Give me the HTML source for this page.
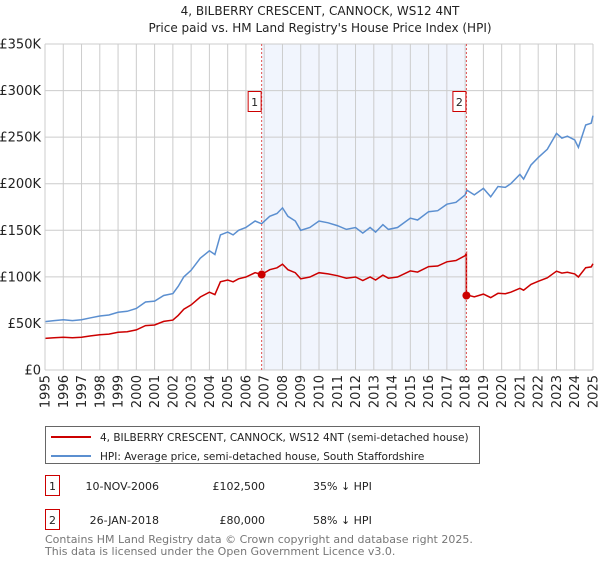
<!DOCTYPE html>
<html><head><meta charset="utf-8">
<style>
body{margin:0;background:#fff;font-family:"DejaVu Sans","Liberation Sans",sans-serif;}
svg text{font-family:"DejaVu Sans","Liberation Sans",sans-serif;}
</style></head>
<body>
<svg id="c" width="600" height="560" xmlns="http://www.w3.org/2000/svg">
<text x="320" y="15" font-size="12" text-anchor="middle" fill="#222">4, BILBERRY CRESCENT, CANNOCK, WS12 4NT</text>
<text x="320" y="32" font-size="12" text-anchor="middle" fill="#222">Price paid vs. HM Land Registry's House Price Index (HPI)</text>
<g id="grid"></g>
<g id="series"></g>
<g id="axes"></g>
<g>
<rect x="45.5" y="426.5" width="434" height="37" fill="#fff" stroke="#666"/>
<line x1="51" y1="437" x2="91" y2="437" stroke="#cc0000" stroke-width="2"/>
<text x="100" y="441" font-size="10.5" fill="#222">4, BILBERRY CRESCENT, CANNOCK, WS12 4NT (semi-detached house)</text>
<line x1="51" y1="456" x2="91" y2="456" stroke="#5b8fd0" stroke-width="2"/>
<text x="100" y="460" font-size="10.5" fill="#222">HPI: Average price, semi-detached house, South Staffordshire</text>
</g>
<g>
<rect x="45.5" y="475.5" width="14" height="20" fill="#fff" stroke="#cc0000"/>
<text x="52.5" y="490" font-size="11" text-anchor="middle" fill="#222">1</text>
<text x="159" y="490" font-size="11" text-anchor="end" fill="#222">10-NOV-2006</text>
<text x="265" y="490" font-size="11" text-anchor="end" fill="#222">£102,500</text>
<text x="313" y="490" font-size="11" fill="#222">35% ↓ HPI</text>
<rect x="45.5" y="509.5" width="14" height="20" fill="#fff" stroke="#cc0000"/>
<text x="52.5" y="524" font-size="11" text-anchor="middle" fill="#222">2</text>
<text x="159" y="524" font-size="11" text-anchor="end" fill="#222">26-JAN-2018</text>
<text x="265" y="524" font-size="11" text-anchor="end" fill="#222">£80,000</text>
<text x="313" y="524" font-size="11" fill="#222">58% ↓ HPI</text>
</g>
<text x="45" y="543" font-size="11" fill="#777">Contains HM Land Registry data © Crown copyright and database right 2025.</text>
<text x="45" y="555" font-size="11" fill="#777">This data is licensed under the Open Government Licence v3.0.</text>
</svg>
<script>
const hpiYears=[1995,1995.5,1996,1996.5,1997,1997.5,1998,1998.5,1999,1999.5,2000,2000.5,2001,2001.5,2002,2002.3,2002.6,2003,2003.5,2004,2004.3,2004.6,2005,2005.3,2005.6,2006,2006.5,2006.86,2007.3,2007.7,2008,2008.3,2008.7,2009,2009.5,2010,2010.5,2011,2011.5,2012,2012.4,2012.8,2013.1,2013.5,2013.8,2014.3,2015,2015.4,2016,2016.5,2017,2017.5,2018,2018.1,2018.5,2019,2019.4,2019.8,2020.2,2020.5,2021,2021.2,2021.6,2022,2022.5,2023,2023.3,2023.6,2024,2024.2,2024.6,2024.9,2025];
const hpiValues=[52,53,54,53,54,56,58,59,62,63,66,73,74,80,82,90,100,107,120,128,124,145,148,145,150,153,160,157,165,168,174,165,160,150,153,160,158,155,151,153,147,153,148,156,151,153,163,161,170,171,178,180,188,193,188,195,186,197,196,200,210,205,220,228,237,254,249,251,247,239,263,265,273];
const saleYears=[2006.86,2018.07];
const salePrices=[102.5,80];
const yTicks=[0,50,100,150,200,250,300,350];
const yTickLabels=["£0","£50K","£100K","£150K","£200K","£250K","£300K","£350K"];
const xTicks=[1995,1996,1997,1998,1999,2000,2001,2002,2003,2004,2005,2006,2007,2008,2009,2010,2011,2012,2013,2014,2015,2016,2017,2018,2019,2020,2021,2022,2023,2024,2025];

const NS="http://www.w3.org/2000/svg";
const X0=45,X1=593,Y0=370,Y1=44;
const xs=t=>X0+(t-1995)/30*(X1-X0);
const ys=v=>Y0-v/350*(Y0-Y1);
function mk(tag,attrs,parent){const e=document.createElementNS(NS,tag);for(const k in attrs)e.setAttribute(k,attrs[k]);parent.appendChild(e);return e;}
const grid=document.getElementById('grid'),ser=document.getElementById('series'),ax=document.getElementById('axes');
function hpiAt(t){for(let i=0;i<hpiYears.length-1;i++){if(t<=hpiYears[i+1]){const f=(t-hpiYears[i])/(hpiYears[i+1]-hpiYears[i]);return hpiValues[i]+f*(hpiValues[i+1]-hpiValues[i]);}}return hpiValues[hpiValues.length-1];}

let r=mk('rect',{x:xs(saleYears[0]),y:Y1,width:xs(saleYears[1])-xs(saleYears[0]),height:Y0-Y1,fill:'#eef3fc',opacity:0.8},grid);


yTicks.forEach((v,i)=>{
 let l=mk('line',{x1:X0,x2:X1,y1:ys(v),y2:ys(v),stroke:'#ccc','stroke-width':1},grid);
 
 
 let t=mk('text',{x:X0-4,y:ys(v)+4.5,'font-size':13,'text-anchor':'end',fill:'#222'},ax);
 t.textContent=yTickLabels[i];
 
 
});
xTicks.forEach(yr=>{
 let l=mk('line',{x1:xs(yr),x2:xs(yr),y1:Y1,y2:Y0,stroke:'#ccc','stroke-width':1},grid);
 
 
 let t=mk('text',{x:0,y:0,'font-size':13,'text-anchor':'end',fill:'#222',transform:`translate(${xs(yr)+4.5},375) rotate(-90)`},ax);
 t.textContent=yr;
 
 
});
let hp=hpiYears.map((t,i)=>xs(t).toFixed(1)+','+ys(hpiValues[i]).toFixed(1)).join(' ');
let hl=mk('polyline',{points:hp,fill:'none',stroke:'#5b8fd0','stroke-width':1.5},ser);


const r0=salePrices[0]/hpiAt(saleYears[0]),r1=salePrices[1]/hpiAt(saleYears[1]);
let pts=[];
hpiYears.forEach((t,i)=>{if(t<saleYears[1])pts.push([t,hpiValues[i]*r0]);});
pts.push([saleYears[1],hpiAt(saleYears[1])*r0]);
pts.push([saleYears[1],salePrices[1]]);
hpiYears.forEach((t,i)=>{if(t>saleYears[1])pts.push([t,hpiValues[i]*r1]);});
let pl=mk('polyline',{points:pts.map(p=>xs(p[0]).toFixed(1)+','+ys(p[1]).toFixed(1)).join(' '),fill:'none',stroke:'#cc0000','stroke-width':1.5},ser);


saleYears.forEach((t,i)=>{
 let v=mk('line',{x1:xs(t),x2:xs(t),y1:Y1,y2:Y0,stroke:'#e05050','stroke-width':1,'stroke-dasharray':'2,2'},ser);
 
 
 let c=mk('circle',{cx:xs(t),cy:ys(salePrices[i]),r:4,fill:'#cc0000'},ser);
 
 
 let b=mk('rect',{x:xs(t)-13.5,y:91.5,width:13,height:20,fill:'#fff',stroke:'#cc0000'},ser);
 
 
 let tx=mk('text',{x:xs(t)-7,y:106,'font-size':11,'text-anchor':'middle',fill:'#222'},ser);
 tx.textContent=String(i+1);
 
 
});
let bx=mk('line',{x1:X0,x2:X0,y1:Y1,y2:Y0,stroke:'#ccc'},ax);


</script>
</body></html>
